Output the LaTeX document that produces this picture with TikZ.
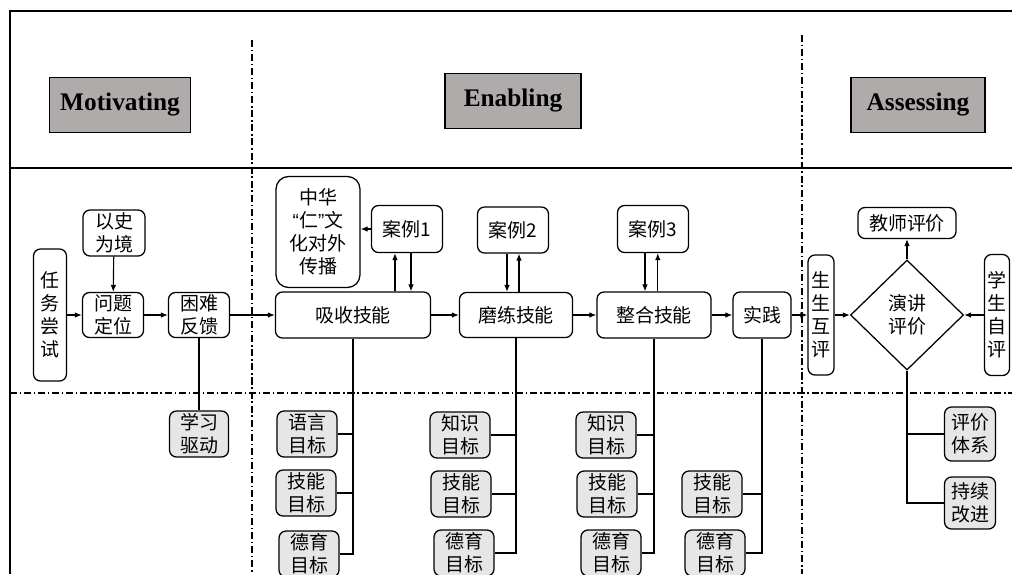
\documentclass[tikz,border=0pt]{standalone}
\usepackage{fontspec}
\setmainfont{Liberation Serif}
\newfontfamily\zhfont{Noto Sans CJK SC}
\newfontfamily\qtfont{Liberation Sans}
\usetikzlibrary{arrows.meta,shapes.geometric}
\definecolor{headgray}{RGB}{175,171,171}
\definecolor{goalgray}{RGB}{230,230,230}

\begin{document}
\begin{tikzpicture}[x=0.025cm, y=-0.025cm]
  \tikzset{
    box/.style={draw, line width=0.9pt, rounded corners=5pt, align=center, inner sep=0pt,
      font=\zhfont\fontsize{13.5}{16.4}\selectfont},
    goal/.style={box, fill=goalgray, minimum width=1.5cm, minimum height=1.15cm},
    head/.style={draw, line width=0.9pt, fill=headgray, minimum height=1.375cm,
      font=\fontsize{18}{20}\selectfont\bfseries},
    judge/.style={draw, diamond, line width=0.9pt, inner sep=0pt, align=center,
      font=\zhfont\fontsize{13.5}{16.4}\selectfont},
    arr/.style={-{Latex[length=5pt,width=4pt]}, line width=0.8pt},
    link/.style={line width=0.8pt},
    sep/.style={line width=0.8pt, dash pattern=on 5pt off 2pt on 1pt off 2pt}
  }
  \useasboundingbox (0,0) rectangle (1012,574);
  % frame and lanes
  \draw[line width=1.5pt] (10,574) -- (10,11) -- (1012,11);
  \draw[line width=0.9pt] (10,168) -- (1012,168);
  \draw[sep] (10,393) -- (1012,393);
  \draw[sep] (252,40) -- (252,574);
  \draw[sep] (802,35) -- (802,574);
  % stage titles
  \node[head, minimum width=3.525cm] (motiv) at (120,105) {Motivating};
  \node[head, minimum width=3.4cm] (enab) at (513,101) {Enabling};
  \node[head, minimum width=3.35cm] (assess) at (918,105) {Assessing};
  % motivating
  \node[box, minimum width=0.825cm, minimum height=3.3cm] (task) at (50,315) {任\\务\\尝\\试};
  \node[box, minimum width=1.55cm, minimum height=1.15cm] (hist) at (114,233) {以史\\为境};
  \node[box, minimum width=1.525cm, minimum height=1.125cm] (locate) at (113,315) {问题\\定位};
  \node[box, minimum width=1.525cm, minimum height=1.125cm] (feedback) at (199,315) {困难\\反馈};
  \node[goal, minimum width=1.475cm] (drive) at (199,434) {学习\\驱动};
  % enabling
  \node[box, rounded corners=9pt, minimum width=2.1cm, minimum height=2.775cm] (culture) at (318,232)
    {中华\\{\qtfont“}仁{\qtfont”}文\\化对外\\传播};
  \node[box, minimum width=1.775cm, minimum height=1.175cm] (case1) at (407,229) {案例1};
  \node[box, minimum width=3.875cm, minimum height=1.15cm] (absorb) at (353,315) {吸收技能};
  \node[box, minimum width=1.775cm, minimum height=1.15cm] (case2) at (513,230) {案例2};
  \node[box, minimum width=2.825cm, minimum height=1.125cm] (hone) at (516,315) {磨练技能};
  \node[box, minimum width=1.775cm, minimum height=1.175cm] (case3) at (653,229) {案例3};
  \node[box, minimum width=2.85cm, minimum height=1.15cm] (integ) at (654,315) {整合技能};
  \node[box, minimum width=1.45cm, minimum height=1.15cm] (practice) at (762,315) {实践};
  \node[goal] (lang1) at (307,434) {语言\\目标};
  \node[goal] (skill1) at (306,493) {技能\\目标};
  \node[goal] (moral1) at (309,554) {德育\\目标};
  \node[goal] (know2) at (460,435) {知识\\目标};
  \node[goal] (skill2) at (461,494) {技能\\目标};
  \node[goal] (moral2) at (464,553) {德育\\目标};
  \node[goal] (know3) at (606,435) {知识\\目标};
  \node[goal] (skill3) at (607,494) {技能\\目标};
  \node[goal] (moral3) at (611,553) {德育\\目标};
  \node[goal] (skill4) at (712,494) {技能\\目标};
  \node[goal] (moral4) at (715,553) {德育\\目标};
  % assessing
  \node[box, minimum width=0.65cm, minimum height=3cm] (peer) at (821,315) {生\\生\\互\\评};
  \node[judge, minimum width=2.825cm, minimum height=2.75cm] (speech) at (907,315) {演讲\\评价};
  \node[box, minimum width=2.45cm, minimum height=0.775cm] (teacher) at (907,223) {教师评价};
  \node[box, minimum width=0.625cm, minimum height=3.025cm] (self) at (997,315) {学\\生\\自\\评};
  \node[goal, minimum width=1.275cm, minimum height=1.35cm] (system) at (970,434) {评价\\体系};
  \node[goal, minimum width=1.275cm, minimum height=1.3cm] (improve) at (970,503) {持续\\改进};

  % main flow
  \draw[arr] (task) -- (locate);
  \draw[arr] (hist) -- (locate);
  \draw[arr] (locate) -- (feedback);
  \draw[arr] (feedback) -- (absorb);
  \draw[link] (feedback) -- (drive);
  \draw[arr] (case1.west) -- (case1.west -| culture.east);
  \draw[arr] ([xshift=-0.3cm]case1.south |- absorb.north) -- ([xshift=-0.3cm]case1.south);
  \draw[arr] ([xshift=0.1cm]case1.south) -- ([xshift=0.1cm]case1.south |- absorb.north);
  \draw[arr] (absorb) -- (hone);
  \draw[arr] ([xshift=-0.15cm]case2.south) -- ([xshift=-0.15cm]case2.south |- hone.north);
  \draw[arr] ([xshift=0.15cm]case2.south |- hone.north) -- ([xshift=0.15cm]case2.south);
  \draw[arr] (hone) -- (integ);
  \draw[arr] ([xshift=-0.2cm]case3.south) -- ([xshift=-0.2cm]case3.south |- integ.north);
  \draw[arr] ([xshift=0.12cm]case3.south |- integ.north) -- ([xshift=0.12cm]case3.south);
  \draw[arr] (integ) -- (practice);
  \draw[arr] (practice) -- (peer);
  \draw[arr] (peer) -- (speech);
  \draw[arr] (self) -- (speech);
  \draw[arr] (speech) -- (teacher);

  % goal trees
  \draw[link] (absorb.south) |- (moral1.east);
  \foreach \g in {lang1,skill1} \draw[link] (\g.east) -- (\g.east -| absorb.south);
  \draw[link] (hone.south) |- (moral2.east);
  \foreach \g in {know2,skill2} \draw[link] (\g.east) -- (\g.east -| hone.south);
  \draw[link] (integ.south) |- (moral3.east);
  \foreach \g in {know3,skill3} \draw[link] (\g.east) -- (\g.east -| integ.south);
  \draw[link] (practice.south) |- (moral4.east);
  \draw[link] (skill4.east) -- (skill4.east -| practice.south);
  \draw[link] (speech.south) |- (improve.west);
  \draw[link] (system.west) -- (system.west -| speech.south);
\end{tikzpicture}
\end{document}
